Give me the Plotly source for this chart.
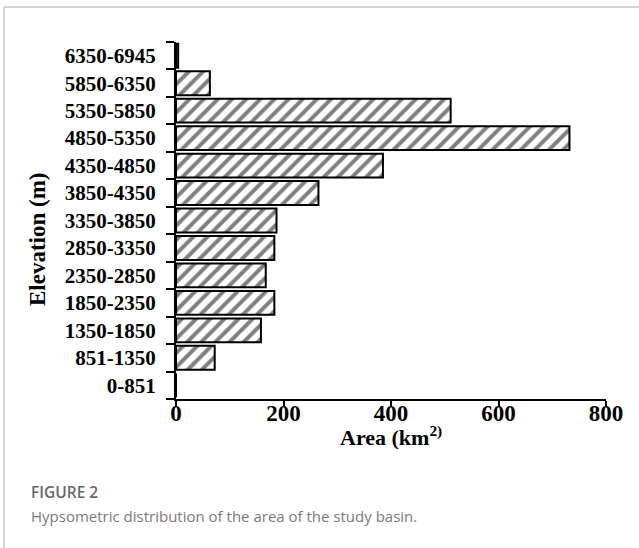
import plotly.graph_objects as go

# Elevation bands (bottom to top) and basin area in each band (km²)
elevation_bands = [
    "0-851", "851-1350", "1350-1850", "1850-2350", "2350-2850",
    "2850-3350", "3350-3850", "3850-4350", "4350-4850", "4850-5350",
    "5350-5850", "5850-6350", "6350-6945",
]
area_km2 = [0, 72, 158, 183, 167, 183, 187, 265, 385, 732, 511, 63, 4]
x_ticks = [0, 200, 400, 600, 800]

W, H = 639, 548
L, R, T, B = 176, 33, 42, 149
PW, PH = W - L - R, H - T - B


def px_x(px):
    return (px - L) / PW


def px_y(py):
    return (H - B - py) / PH


serif = "Liberation Serif"

fig = go.Figure(
    go.Bar(
        y=elevation_bands,
        x=area_km2,
        orientation="h",
        marker=dict(
            color="white",
            line=dict(color="black", width=2),
            pattern=dict(shape="/", fgcolor="black", bgcolor="white",
                         size=10, solidity=0.4),
        ),
        hoverinfo="x+y",
    )
)

fig.update_layout(
    width=W, height=H,
    margin=dict(l=L, r=R, t=T, b=B),
    paper_bgcolor="white", plot_bgcolor="white",
    showlegend=False,
    bargap=0.13,
    font=dict(family=serif, color="black"),
    xaxis=dict(
        range=[0, 800], tickvals=x_ticks, ticks="outside", ticklen=6,
        tickwidth=2, tickcolor="black", showline=True, linewidth=2,
        linecolor="black", showgrid=False, zeroline=False,
        tickfont=dict(family=serif, size=23, weight="bold"),
        ticklabelstandoff=-14,
    ),
    yaxis=dict(
        type="category", tickson="boundaries", ticks="outside", ticklen=8,
        tickwidth=2, tickcolor="black", showline=True, linewidth=2,
        linecolor="black", showgrid=False, zeroline=False,
        tickfont=dict(family=serif, size=21, weight="bold"),
        ticklabelstandoff=14,
    ),
)

annotations = [
    # axis titles
    dict(text="Area (km<sup>2)</sup>", x=400, xref="x", y=px_y(420),
         yref="paper", xanchor="center", yanchor="top", showarrow=False,
         font=dict(family=serif, size=22, weight="bold", color="black")),
    dict(text="Elevation (m)", x=px_x(37), xref="paper", y=px_y(239),
         yref="paper", xanchor="center", yanchor="middle", textangle=-90,
         showarrow=False,
         font=dict(family=serif, size=23, weight="bold", color="black")),
    # caption
    dict(text="FIGURE 2", x=px_x(29), xref="paper", y=px_y(479),
         yref="paper", xanchor="left", yanchor="top", showarrow=False,
         font=dict(family="Open Sans", size=15.5, weight=600, color="#676767")),
    dict(text="Hypsometric distribution of the area of the study basin.",
         x=px_x(29), xref="paper", y=px_y(504), yref="paper",
         xanchor="left", yanchor="top", showarrow=False,
         font=dict(family="Open Sans", size=15, color="#7a7a7a")),
]
fig.update_layout(annotations=annotations)

# card frame (left and top edges)
frame = dict(type="line", xref="paper", yref="paper",
             line=dict(color="#d4d4d4", width=2), layer="below")
fig.add_shape(**frame, x0=px_x(4), x1=px_x(4), y0=px_y(7), y1=px_y(H))
fig.add_shape(**frame, x0=px_x(4), x1=px_x(W), y0=px_y(7), y1=px_y(7))

fig.write_html("out.html")
